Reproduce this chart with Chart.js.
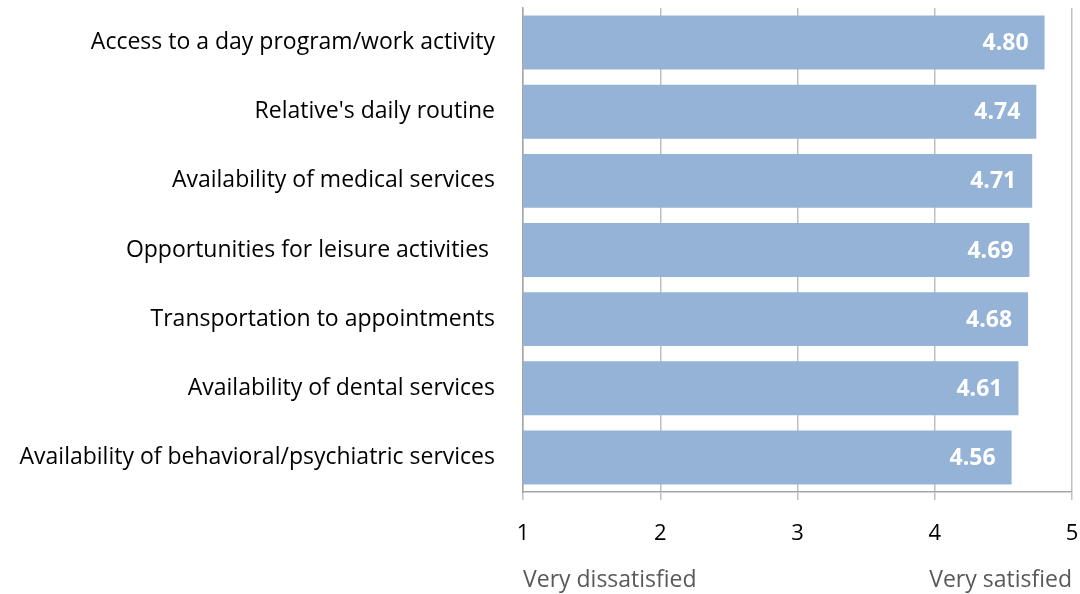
<!DOCTYPE html>
<html lang="en">
<head>
    <meta charset="UTF-8">
    <title>Satisfaction Ratings</title>
    <script src="https://cdn.jsdelivr.net/npm/chart.js"></script>
    <style>
        html, body { margin: 0; padding: 0; background: #fff; }
        #wrap { width: 1080px; height: 594px; }
    </style>
</head>
<body>
    <div id="wrap"><canvas id="chart"></canvas></div>

    <script>
        // Chart data
        const categories = [
            'Access to a day program/work activity',
            "Relative's daily routine",
            'Availability of medical services',
            'Opportunities for leisure activities ',
            'Transportation to appointments',
            'Availability of dental services',
            'Availability of behavioral/psychiatric services'
        ];
        const scores = [4.80, 4.74, 4.71, 4.69, 4.68, 4.61, 4.56];
        const tickValues = [1, 2, 3, 4, 5];
        const endLabels = ['Very dissatisfied', 'Very satisfied'];

        const FONT = '"Open Sans", sans-serif';

        // white values inside the bar ends
        const valueLabels = {
            id: 'valueLabels',
            afterDatasetsDraw(chart) {
                const ctx = chart.ctx;
                const meta = chart.getDatasetMeta(0);
                ctx.save();
                ctx.font = 'bold 23px ' + FONT;
                ctx.fillStyle = '#ffffff';
                ctx.textAlign = 'right';
                ctx.textBaseline = 'middle';
                meta.data.forEach((bar, i) => {
                    ctx.fillText(scores[i].toFixed(2), bar.x - 16, bar.y + 1);
                });
                ctx.restore();
            }
        };

        // "Very dissatisfied" / "Very satisfied" under the axis ends
        const endCaptions = {
            id: 'endCaptions',
            afterDraw(chart) {
                const ctx = chart.ctx;
                const x = chart.scales.x;
                ctx.save();
                ctx.font = '23px ' + FONT;
                ctx.fillStyle = '#595959';
                ctx.textBaseline = 'alphabetic';
                ctx.textAlign = 'left';
                ctx.fillText(endLabels[0], x.getPixelForValue(tickValues[0]), 587);
                ctx.textAlign = 'right';
                ctx.fillText(endLabels[1], x.getPixelForValue(tickValues[tickValues.length - 1]), 587);
                ctx.restore();
            }
        };

        new Chart(document.getElementById('chart'), {
            type: 'bar',
            data: {
                labels: categories,
                datasets: [{
                    data: scores,
                    backgroundColor: '#95b3d7',
                    borderWidth: 0,
                    categoryPercentage: 1,
                    barPercentage: 0.78
                }]
            },
            options: {
                indexAxis: 'y',
                responsive: true,
                maintainAspectRatio: false,
                animation: false,
                layout: { padding: { top: 8, right: 8, left: 0, bottom: 0 } },
                plugins: {
                    legend: { display: false },
                    tooltip: { enabled: false }
                },
                scales: {
                    x: {
                        min: 1,
                        max: 5,
                        afterBuildTicks(scale) {
                            scale.ticks = tickValues.map(v => ({ value: v }));
                        },
                        afterFit(scale) {
                            scale.height = 102;
                            scale.paddingLeft = 0;
                            scale.paddingRight = 0;
                        },
                        grid: {
                            color: '#bfbfbf',
                            lineWidth: 1.5,
                            tickLength: 8
                        },
                        border: { color: '#a6a6a6', width: 1.5 },
                        ticks: {
                            color: '#000000',
                            padding: 21,
                            font: { family: FONT, size: 22 }
                        }
                    },
                    y: {
                        afterFit(scale) {
                            scale.width = 523;
                            scale.paddingTop = 0;
                            scale.paddingBottom = 0;
                        },
                        grid: { display: false },
                        border: { color: '#a6a6a6', width: 1.5 },
                        ticks: {
                            color: '#000000',
                            padding: 20,
                            font: { family: FONT, size: 23 }
                        }
                    }
                }
            },
            plugins: [valueLabels, endCaptions]
        });
    </script>
</body>
</html>
